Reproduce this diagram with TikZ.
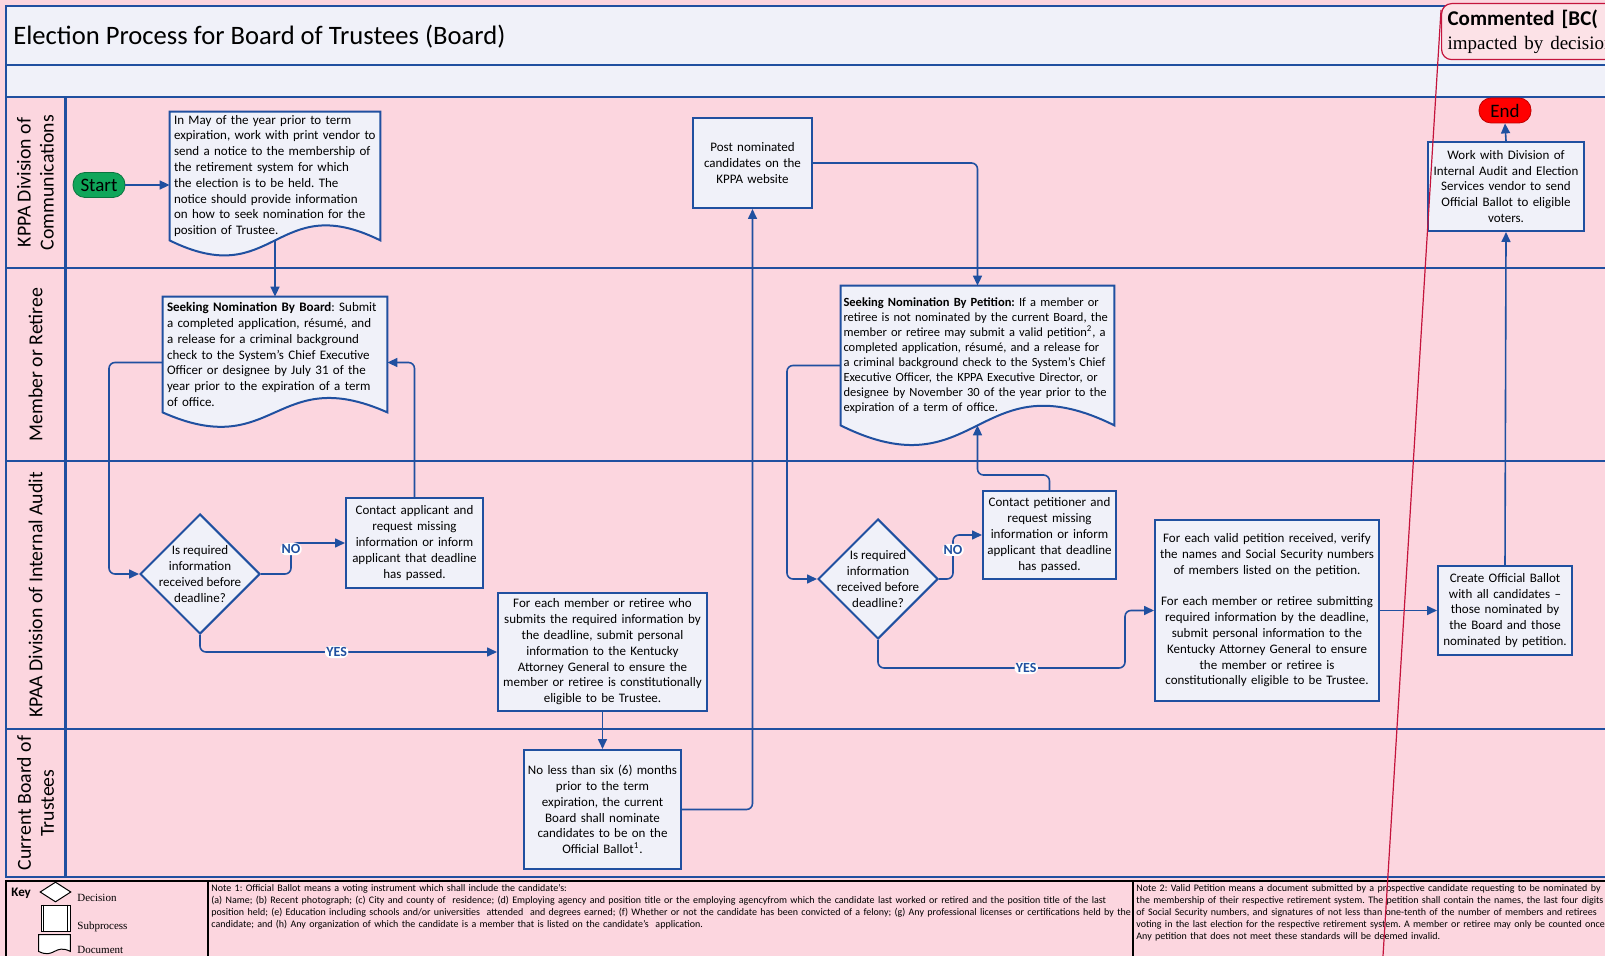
\documentclass[tikz,border=0pt]{standalone}
\usepackage{fontspec}
\setmainfont{Carlito}
\newfontfamily\keyfont{Liberation Serif}
\usetikzlibrary{shapes.geometric,arrows.meta,calc}
\definecolor{lanepink}{RGB}{252,214,223}
\definecolor{bandgray}{RGB}{240,241,249}
\definecolor{flowblue}{RGB}{32,80,160}
\definecolor{startgreen}{RGB}{16,166,90}
\definecolor{commentred}{RGB}{196,20,60}
\definecolor{commentfill}{RGB}{252,226,231}
\pgfdeclarelayer{lanes}
\pgfdeclarelayer{docs}
\pgfsetlayers{lanes,docs,main}
\frenchspacing
\newcommand{\boxfont}{\fontsize{6.5}{7.9}\selectfont}
\newcommand{\docframe}[3][docline]{\draw[#1] (#2.north west) -- (#2.north east) -- (#2.south east)
  .. controls ($(#2.south)+(0,-#3)$) and ($(#2.south)+(0,#3)$) .. (#2.south west) -- cycle;}

\begin{document}
\begin{tikzpicture}[x=0.5pt,y=-0.5pt]
\tikzset{flow/.style={draw=flowblue,line width=0.8pt},
  arrow/.style={flow,-{Triangle[length=5pt,width=4.5pt]}},
  proc/.style={draw=flowblue,line width=1pt,fill=bandgray,align=center,font=\boxfont,inner xsep=1pt,inner ysep=1pt},
  box/.style 2 args={proc,text width=#1,minimum height=#2},
  doc/.style 2 args={align=left,font=\boxfont,inner xsep=2pt,inner ysep=0pt,text width=#1,minimum height=#2},
  docline/.style={draw=flowblue,line width=1pt,fill=bandgray},
  keydocline/.style={draw=black,line width=0.5pt,fill=white},
  decision/.style={diamond,draw=flowblue,line width=1pt,fill=bandgray,minimum size=60pt,inner sep=0pt},
  dectext/.style={align=center,font=\boxfont},
  terminal/.style={rounded corners=6pt,minimum width=26pt,minimum height=12.5pt,inner sep=0pt,font=\fontsize{9.5}{10}\selectfont},
  lane/.style={draw=flowblue,line width=1.2pt},
  lanetitle/.style={rotate=90,align=center,font=\fontsize{9.9}{11.5}\selectfont},
  yesno/.style={fill=white,text=flowblue,font=\bfseries\fontsize{7}{7}\selectfont,inner sep=0.7pt},
  keyline/.style={draw=black,line width=1.3pt},
  keytext/.style={anchor=west,font=\keyfont\fontsize{5.5}{6}\selectfont,inner sep=0pt},
  note/.style={anchor=north west,align=left,text width=460pt,font=\fontsize{5}{6}\selectfont,inner sep=0pt},
  comment/.style={draw=commentred,fill=commentfill,rounded corners=5pt,line width=0.6pt,anchor=north west,
    align=left,text width=220pt,minimum height=28pt,inner sep=3pt,font=\fontsize{10.5}{12}\selectfont}}
\useasboundingbox (0,0) rectangle (1605,956);
\begin{pgfonlayer}{lanes}
\fill[lanepink] (0,0) rectangle (1605,956);
\fill[bandgray] (6,6) rectangle (1605,97);
\end{pgfonlayer}
% swimlanes
\draw[lane] (1605,6) -- (6,6) -- (6,877) -- (1605,877);
\foreach \y in {65,97,268,461,729} \draw[lane] (6,\y) -- (1605,\y);
\draw[lane] (65.5,97) -- (65.5,877);
\node[anchor=west,font=\fontsize{13.3}{15}\selectfont,inner sep=0pt] (title) at (13,37) {Election Process for Board of Trustees (Board)};
\node[lanetitle] (lanecomm) at (35.5,182.5) {KPPA Division of\\Communications};
\node[lanetitle] (lanemember) at (35.5,364.5) {Member or Retiree};
\node[lanetitle] (laneaudit) at (35.5,595) {KPAA Division of Internal Audit};
\node[lanetitle] (laneboard) at (35.5,803) {Current Board of\\Trustees};
% steps
\node[terminal,fill=startgreen,draw=startgreen!70!black] (start) at (99,185) {Start};
\node[doc={101pt}{64pt}] (notice) at (275,176) {In May of the year prior to term\\expiration, work with print vendor to\\send a notice to the membership of\\the retirement system for which\\the election is to be held. The\\notice should provide information\\on how to seek nomination for the\\position of Trustee.};
\node[doc={108pt}{57.5pt}] (boarddoc) at (275,354.5) {\textbf{Seeking Nomination By Board}: Submit\\a completed application, résumé, and\\a release for a criminal background\\check to the System’s Chief Executive\\Officer or designee by July 31 of the\\year prior to the expiration of a term\\of office.};
\node[decision,label={[dectext]center:Is required\\information\\received before\\deadline?}] (dec1) at (200,574) {};
\node[box={66.5pt}{45pt}] (contactA) at (414.5,543) {Contact applicant and\\request missing\\information or inform\\applicant that deadline\\has passed.};
\node[box={102.5pt}{59pt}] (member) at (602.5,652) {For each member or retiree who\\submits the required information by\\the deadline, submit personal\\information to the Kentucky\\Attorney General to ensure the\\member or retiree is constitutionally\\eligible to be Trustee.};
\node[box={76.5pt}{59.5pt}] (nominate) at (602.5,809.5) {No less than six (6) months\\prior to the term\\expiration, the current\\Board shall nominate\\candidates to be on the\\Official Ballot\textsuperscript{1}.};
\node[box={57.5pt}{45pt}] (post) at (752.5,163) {Post nominated\\candidates on the\\KPPA website};
\node[doc={134pt}{69.5pt},inner xsep=1.25pt,font=\fontsize{6.25}{7.45}\selectfont] (petition) at (977.5,355.5) {\textbf{Seeking Nomination By Petition:} If a member or\\retiree is not nominated by the current Board, the\\member or retiree may submit a valid petition\textsuperscript{2}, a\\completed application, résumé, and a release for\\a criminal background check to the System’s Chief\\Executive Officer, the KPPA Executive Director, or\\designee by November 30 of the year prior to the\\expiration of a term of office.};
\node[decision,label={[dectext]center:Is required\\information\\received before\\deadline?}] (dec2) at (878,579) {};
\node[box={64.5pt}{44pt}] (contactP) at (1049.5,535) {Contact petitioner and\\request missing\\information or inform\\applicant that deadline\\has passed.};
\node[box={110pt}{90.5pt}] (verify) at (1267,610.5) {For each valid petition received, verify\\the names and Social Security numbers\\of members listed on the petition.\\[7.9pt]For each member or retiree submitting\\required information by the deadline,\\submit personal information to the\\Kentucky Attorney General to ensure\\the member or retiree is\\constitutionally eligible to be Trustee.};
\node[box={65pt}{44.5pt}] (ballot) at (1505,610.5) {Create Official Ballot\\with all candidates --\\those nominated by\\the Board and those\\nominated by petition.};
\node[box={76pt}{44.5pt}] (mail) at (1506,186.5) {Work with Division of\\Internal Audit and Election\\Services vendor to send\\Official Ballot to eligible\\voters.};
\node[terminal,fill=red,draw=red!75!black] (end) at (1505,110.5) {End};
\begin{pgfonlayer}{docs}
\docframe{notice}{52}
\docframe{boarddoc}{50}
\docframe{petition}{68}
\end{pgfonlayer}
% connectors
\draw[arrow] (start.east) -- (start.east -| notice.west);
\draw[arrow] (notice.south) -- (boarddoc.north);
\draw[arrow,rounded corners=3pt] ($(boarddoc.west)+(0,8)$) -| ($(dec1.west)+(-30,0)$) -- (dec1.west);
\draw[arrow,rounded corners=3pt] (dec1.east) -- ++(30,0) |- node[yesno,pos=0.4] (no1) {NO} (contactA.west);
\draw[arrow,rounded corners=3pt] (contactA.north) |- ($(boarddoc.east)+(0,8)$);
\draw[arrow,rounded corners=3pt] (dec1.south) |- node[yesno,pos=0.73] (yes1) {YES} (member.west);
\draw[arrow] (member.south) -- (nominate.north);
\draw[arrow,rounded corners=3pt] (nominate.east) -| (post.south);
\draw[arrow,rounded corners=3pt] (post.east) -| (petition.north);
\draw[arrow,rounded corners=3pt] ($(petition.west)+(0,10)$) -| ($(dec2.west)+(-30,0)$) -- (dec2.west);
\draw[arrow,rounded corners=3pt] (dec2.east) -- ++(14,0) |- node[yesno,pos=0.33] (no2) {NO} (contactP.west);
\draw[arrow,rounded corners=3pt] (contactP.north) -- ++(0,-15) -| (petition.south);
\draw[arrow,rounded corners=3pt] (dec2.south) -- ++(0,28) -| node[yesno,pos=0.3] (yes2) {YES} ($(verify.west)+(-29,0)$) -- (verify.west);
\draw[arrow] (verify.east) -- (ballot.west);
\draw[arrow] (ballot.north) -- (mail.south);
\draw[arrow] (mail.north) -- (end.south);
% key and notes
\draw[keyline] (6,956) -- (6,881) -- (1605,881);
\draw[keyline] (208,881) -- (208,956);
\draw[keyline] (1133,881) -- (1133,956);
\node[anchor=west,font=\bfseries\fontsize{6.5}{7}\selectfont,inner sep=0pt] (keytitle) at (11,893) {Key};
\node[diamond,draw=black,fill=white,line width=0.5pt,minimum width=15.5pt,minimum height=10pt,inner sep=0pt] (keydec) at (55.5,892) {};
\node[keytext] (keydectext) at (77,898) {Decision};
\node[draw=black,fill=white,line width=0.5pt,minimum width=14.5pt,minimum height=13pt,inner sep=0pt] (keysub) at (55.5,918) {};
\draw[black,line width=0.5pt] ([xshift=1.5pt]keysub.north west) -- ([xshift=1.5pt]keysub.south west);
\draw[black,line width=0.5pt] ([xshift=-1.5pt]keysub.north east) -- ([xshift=-1.5pt]keysub.south east);
\node[keytext] (keysubtext) at (77,927) {Subprocess};
\node[minimum width=15.5pt,minimum height=8pt,inner sep=0pt] (keydoc) at (54.5,943) {};
\begin{pgfonlayer}{docs}
\docframe[keydocline]{keydoc}{8}
\end{pgfonlayer}
\node[keytext] (keydoctext) at (77,950) {Document};
\node[note] (note1) at (211,884) {Note 1: Official Ballot means a voting instrument which shall include the candidate's:\\(a) Name; (b) Recent photograph; (c) City and county of\ \ residence; (d) Employing agency and position title or the employing agencyfrom which the candidate last worked or retired and the position title of the last\\position held; (e) Education including schools and/or universities\ \ attended\ \ and degrees earned; (f) Whether or not the candidate has been convicted of a felony; (g) Any professional licenses or certifications held by the\\candidate; and (h) Any organization of which the candidate is a member that is listed on the candidate's\ \ application.};
\node[note,text width=300pt] (note2) at (1136,884) {Note 2: Valid Petition means a document submitted by a prospective candidate requesting to be nominated by\\the membership of their respective retirement system. The petition shall contain the names, the last four digits\\of Social Security numbers, and signatures of not less than one-tenth of the number of members and retirees\\voting in the last election for the respective retirement system. A member or retiree may only be counted once.\\Any petition that does not meet these standards will be deemed invalid.};
% comment balloon
\node[comment] (cmt) at (1441,3) {\textbf{Commented [BC(}\\{\keyfont\fontsize{9.5}{12}\selectfont impacted by decision}};
\coordinate (cmtend) at (1383,956);
\draw[commentred,line width=0.6pt] ([yshift=-3.5pt]cmt.north west) -- (cmtend);
\end{tikzpicture}
\end{document}
